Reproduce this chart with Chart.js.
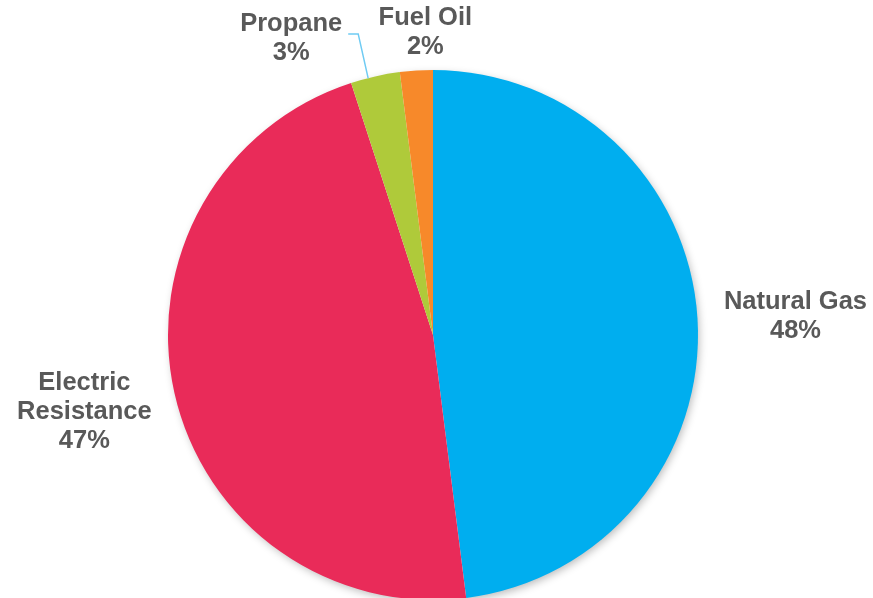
<!DOCTYPE html>
<html>
<head>
<meta charset="utf-8">
<script src="https://cdn.jsdelivr.net/npm/chart.js@4"></script>
<style>
  html, body { margin: 0; padding: 0; background: #fff; overflow: hidden; }
  #wrap { width: 873px; height: 610px; }
</style>
</head>
<body>
<div id="wrap"><canvas id="pie-chart" width="873" height="610"></canvas></div>
<script>
const categories = ['Natural Gas', 'Electric Resistance', 'Propane', 'Fuel Oil'];
const shares = [48, 47, 3, 2];
const sliceColors = ['#00AEEF', '#E92B59', '#AFCA3A', '#F7892A'];

// label lines per slice, and offset from the slice's outer midpoint
const labelLines = [['Natural Gas'], ['Electric', 'Resistance'], ['Propane'], ['Fuel Oil']];
const labelOffsets = [[98, -2], [-90, 19], [-84, -38], [9, -38]];

const outsideLabels = {
  id: 'outsideLabels',
  beforeDatasetsDraw(chart) {
    // soft shadow under the whole pie
    const arc = chart.getDatasetMeta(0).data[0];
    const ctx = chart.ctx;
    ctx.save();
    ctx.shadowColor = 'rgba(0,0,0,0.28)';
    ctx.shadowBlur = 9;
    ctx.shadowOffsetX = 2;
    ctx.shadowOffsetY = 3;
    ctx.fillStyle = '#fff';
    ctx.beginPath();
    ctx.arc(arc.x, arc.y, arc.outerRadius - 1, 0, Math.PI * 2);
    ctx.fill();
    ctx.restore();
  },
  afterDatasetsDraw(chart) {
    const ctx = chart.ctx;
    const meta = chart.getDatasetMeta(0);
    ctx.save();
    ctx.font = 'bold 25.5px "Liberation Sans", Arial, sans-serif';
    ctx.fillStyle = '#595959';
    ctx.textAlign = 'center';
    ctx.textBaseline = 'middle';
    const lineH = 29;
    meta.data.forEach((el, i) => {
      const mid = (el.startAngle + el.endAngle) / 2;
      const px = el.x + Math.cos(mid) * el.outerRadius;
      const py = el.y + Math.sin(mid) * el.outerRadius;
      const cx = px + labelOffsets[i][0];
      const cy = py + labelOffsets[i][1];
      const lines = labelLines[i].concat([shares[i] + '%']);
      const top = cy - (lines.length - 1) * lineH / 2;
      lines.forEach((t, k) => ctx.fillText(t, cx, top + k * lineH));
      if (categories[i] === 'Propane') {
        // leader line from label to slice edge
        const w = ctx.measureText(lines[0]).width;
        const lx = cx + w / 2 + 6;
        ctx.strokeStyle = '#6FCBF3';
        ctx.lineWidth = 1.5;
        ctx.beginPath();
        ctx.moveTo(lx, top + 10);
        ctx.lineTo(lx + 10, top + 10);
        ctx.lineTo(px - 7, py + 2);
        ctx.stroke();
      }
    });
    ctx.restore();
  }
};

new Chart(document.getElementById('pie-chart').getContext('2d'), {
  type: 'pie',
  data: {
    labels: categories,
    datasets: [{
      data: shares,
      backgroundColor: sliceColors,
      borderWidth: 0
    }]
  },
  options: {
    responsive: false,
    animation: false,
    layout: { padding: { top: 70, bottom: 10, left: 168, right: 175 } },
    plugins: {
      legend: { display: false },
      tooltip: { enabled: false }
    }
  },
  plugins: [outsideLabels]
});
</script>
</body>
</html>
